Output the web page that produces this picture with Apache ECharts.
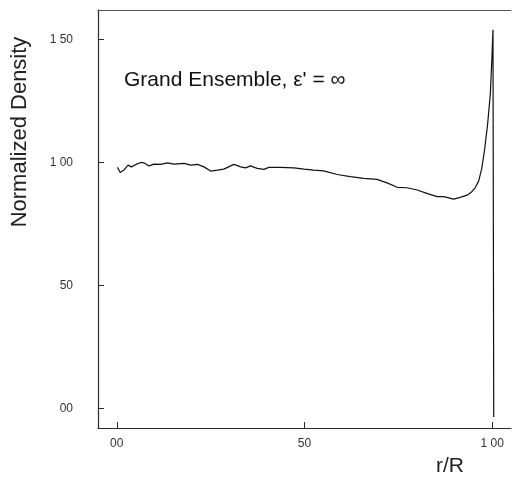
<!DOCTYPE html>
<html>
<head>
<meta charset="utf-8">
<script src="https://cdn.jsdelivr.net/npm/echarts@6/dist/echarts.min.js"></script>
<style>html,body{margin:0;padding:0;background:#fff;}#c{width:512px;height:482px;}</style>
</head>
<body>
<div id="c"></div>
<script>
// r/R positions and normalized density values
const rValues = [0.002,0.009,0.019,0.030,0.039,0.051,0.064,0.073,0.086,0.099,0.117,0.135,0.152,0.179,0.197,0.215,0.232,0.250,0.268,0.285,0.312,0.330,0.343,0.356,0.374,0.392,0.405,0.436,0.472,0.499,0.525,0.551,0.587,0.622,0.658,0.693,0.720,0.747,0.773,0.800,0.826,0.853,0.871,0.897,0.915,0.933,0.945,0.955,0.964,0.972,0.980,0.988,0.995,0.999,1.002,1.004];
const densityValues = [0.980,0.959,0.969,0.989,0.982,0.992,1.000,0.998,0.986,0.993,0.992,0.998,0.993,0.996,0.989,0.992,0.982,0.965,0.969,0.973,0.992,0.982,0.978,0.986,0.976,0.972,0.980,0.980,0.978,0.973,0.969,0.966,0.951,0.942,0.935,0.931,0.917,0.899,0.897,0.888,0.874,0.861,0.861,0.851,0.858,0.867,0.880,0.898,0.925,0.975,1.055,1.160,1.280,1.420,1.540,-0.035];
const xTickValues = [0, 0.5, 1.0];
const xTickLabels = ["00", "50", "1 00"];
const yTickValues = [0, 0.5, 1.0, 1.5];
const yTickLabels = ["00", "50", "1 00", "1 50"];
const yTitle = "Normalized Density";
const xTitle = "r/R";
const note = "Grand Ensemble, \u03B5' = \u221E";

const chart = echarts.init(document.getElementById('c'), null, {renderer: 'canvas'});
const font = "'Liberation Sans', Arial, sans-serif";
const axisColor = '#2a2a2a';
const lblColor = '#333';
function lbl(values, labels) {
  return v => { const i = values.findIndex(t => Math.abs(t - v) < 1e-9); return i >= 0 ? labels[i] : ''; };
}
chart.setOption({
  animation: false,
  backgroundColor: '#fff',
  grid: {left: 98, right: 1, top: 10, bottom: 54, containLabel: false},
  xAxis: [{
    type: 'value', min: -0.05, max: 1.05, position: 'bottom',
    axisLine: {show: true, onZero: false, lineStyle: {color: axisColor, width: 1.2}},
    axisTick: {show: true, inside: true, length: 6, customValues: xTickValues, lineStyle: {color: axisColor}},
    axisLabel: {show: true, customValues: xTickValues, formatter: lbl(xTickValues, xTickLabels), margin: 10, fontSize: 12, fontFamily: font, color: lblColor},
    splitLine: {show: false}
  }, {
    type: 'value', min: -0.05, max: 1.05, position: 'top',
    axisLine: {show: true, onZero: false, lineStyle: {color: '#555', width: 1}},
    axisTick: {show: false}, axisLabel: {show: false}, splitLine: {show: false}
  }],
  yAxis: [{
    type: 'value', min: -0.08, max: 1.62, position: 'left',
    axisLine: {show: true, onZero: false, lineStyle: {color: axisColor, width: 1.2}},
    axisTick: {show: true, inside: true, length: 6, customValues: yTickValues, lineStyle: {color: axisColor}},
    axisLabel: {show: true, customValues: yTickValues, formatter: lbl(yTickValues, yTickLabels), margin: 25, fontSize: 12, fontFamily: font, color: lblColor},
    splitLine: {show: false}
  }],
  series: [{
    type: 'line', xAxisIndex: 0, yAxisIndex: 0,
    data: rValues.map((r, i) => [r, densityValues[i]]),
    showSymbol: false, smooth: false,
    lineStyle: {color: '#111', width: 1.2}
  }],
  graphic: [{
    type: 'text', left: 124, top: 70,
    style: {text: note, font: "21px " + font, fill: '#111'}
  }, {
    type: 'text', x: 20, y: 132, rotation: Math.PI / 2,
    style: {text: yTitle, font: "22px " + font, fill: '#222', align: 'center', verticalAlign: 'middle'}
  }, {
    type: 'text', left: 436, top: 456,
    style: {text: xTitle, font: "21px " + font, fill: '#222'}
  }]
});
</script>
</body>
</html>
